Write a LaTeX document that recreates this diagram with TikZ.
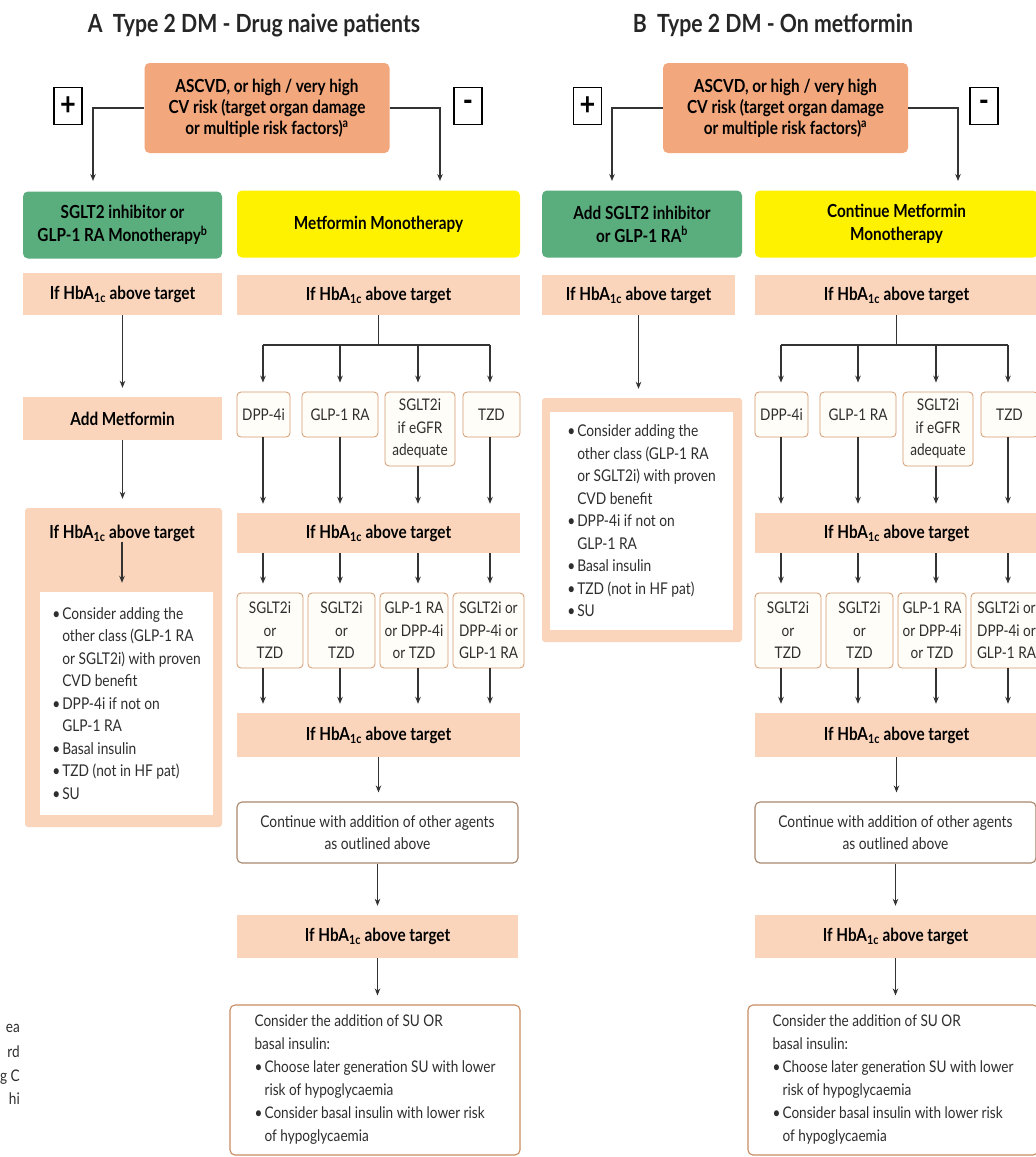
\documentclass[tikz,border=0pt]{standalone}
\usepackage{fontspec}
\setmainfont{Lato}[FakeStretch=0.85]
\usetikzlibrary{arrows.meta}
\definecolor{riskorange}{HTML}{F2A77D}
\definecolor{hbapeach}{HTML}{FAD5BC}
\definecolor{glizgreen}{HTML}{5AAE7E}
\definecolor{metyellow}{HTML}{FFF200}
\definecolor{drugborder}{HTML}{D49A70}
\definecolor{drugfill}{HTML}{FFFDF8}
\definecolor{noteborder}{HTML}{A8866C}
\definecolor{consborder}{HTML}{C98C60}
\definecolor{linegray}{HTML}{333333}
\definecolor{textgray}{HTML}{2E2E2E}
\newcommand{\hba}{If HbA\textsubscript{1c} above target}
\newcommand{\bul}{\makebox[10pt][l]{\textbullet}}
\newcommand{\bulpad}{\hspace*{10pt}}
\tikzstyle{title}=[font=\bfseries\fontsize{25}{28}\selectfont, text=black!85, inner sep=0]
\tikzstyle{riskbox}=[fill=riskorange, rounded corners=5pt, align=center, inner sep=0,
                     font=\bfseries\fontsize{18}{21}\selectfont, minimum width=245, minimum height=90]
\tikzstyle{signbox}=[draw=black, line width=1.4pt, inner sep=0, minimum width=28, minimum height=37,
                     font=\bfseries\fontsize{32}{32}\selectfont]
\tikzstyle{startbox}=[rounded corners=5pt, align=center, inner sep=0, minimum height=67,
                      font=\bfseries\fontsize{18}{23}\selectfont]
\tikzstyle{greenbox}=[startbox, fill=glizgreen]
\tikzstyle{yellowbox}=[startbox, fill=metyellow]
\tikzstyle{hbabox}=[fill=hbapeach, inner sep=0, minimum height=42, font=\bfseries\fontsize{18}{20}\selectfont]
\tikzstyle{hbatext}=[inner sep=0, font=\bfseries\fontsize{18}{20}\selectfont]
\tikzstyle{drugbox}=[draw=drugborder, line width=0.8pt, fill=drugfill, rounded corners=4pt, align=center,
                     inner sep=0, minimum height=45, text=textgray, font=\fontsize{16}{22.5}\selectfont]
\tikzstyle{notebox}=[draw=noteborder, line width=1.1pt, fill=white, rounded corners=5pt, align=center,
                     inner sep=0, text=textgray, font=\fontsize{16.2}{22}\selectfont]
\tikzstyle{consbox}=[notebox, draw=consborder, align=left, font=\fontsize{16}{23}\selectfont]
\tikzstyle{listframe}=[fill=hbapeach, rounded corners=3pt, inner sep=0]
\tikzstyle{listbox}=[fill=white, align=left, inner sep=0, text=textgray, font=\fontsize{16.2}{22.5}\selectfont]
\tikzstyle{fragment}=[inner sep=0, text=textgray, font=\fontsize{16}{20}\selectfont]
\tikzstyle{line}=[draw=linegray, line width=1.6pt]
\tikzstyle{flow}=[line, -{Stealth[length=7pt,width=5.5pt]}, shorten >=9pt]

% the metformin branch, drawn once for each panel
\newcommand{\metcolumn}[3]{%
  \begin{scope}[xshift=#2]
    \node[yellowbox, minimum width=283] (#1met) at (378.5,224) {#3};
    \node[hbabox, minimum width=283, minimum height=40] (#1hba1) at (378.5,295) {\hba};
    \coordinate (#1l1) at (263,0);
    \coordinate (#1l2) at (340,0);
    \coordinate (#1l3) at (418,0);
    \coordinate (#1l4) at (490,0);
    \coordinate (#1fork) at (378.5,345);
    \node[drugbox, minimum width=53] (#1dpp) at (263.5,414.5) {DPP-4i};
    \node[drugbox, minimum width=76] (#1glp) at (340,414.5) {GLP-1 RA};
    \node[drugbox, minimum width=70, minimum height=74] (#1sglt) at (420,429) {SGLT2i\\if eGFR\\adequate};
    \node[drugbox, minimum width=57] (#1tzd) at (491.5,414.5) {TZD};
    \node[hbabox, minimum width=283, minimum height=40] (#1hba2) at (378.5,533) {\hba};
    \node[drugbox, minimum width=66, minimum height=75] (#1c1) at (270,630.5) {SGLT2i\\or\\TZD};
    \node[drugbox, minimum width=67, minimum height=75] (#1c2) at (341.5,630.5) {SGLT2i\\or\\TZD};
    \node[drugbox, minimum width=68, minimum height=75] (#1c3) at (414,630.5) {GLP-1 RA\\or DPP-4i\\or TZD};
    \node[drugbox, minimum width=71, minimum height=75] (#1c4) at (488.5,630.5) {SGLT2i or\\DPP-4i or\\GLP-1 RA};
    \node[hbabox, minimum width=283, minimum height=44] (#1hba3) at (378.5,735) {\hba};
    \node[notebox, minimum width=281, minimum height=61] (#1cont) at (377.5,832.5)
      {Continue with addition of other agents\\as outlined above};
    \node[hbabox, minimum width=281, minimum height=43] (#1hba4) at (377.5,936.5) {\hba};
    \node[consbox, minimum width=290, minimum height=150] (#1cons) at (375,1080)
      {Consider the addition of SU OR\\basal insulin:\\\bul Choose later generation SU with lower\\
       \bulpad risk of hypoglycaemia\\\bul Consider basal insulin with lower risk\\\bulpad of hypoglycaemia};
  \end{scope}
  \draw[line] (#1hba1.south) -- (#1fork);
  \draw[line] (#1fork -| #1l1) -- (#1fork -| #1l4);
  \draw[flow] (#1fork -| #1l1) -- (#1dpp.north -| #1l1);
  \draw[flow] (#1fork -| #1l2) -- (#1glp.north -| #1l2);
  \draw[flow] (#1fork -| #1l3) -- (#1sglt.north -| #1l3);
  \draw[flow] (#1fork -| #1l4) -- (#1tzd.north -| #1l4);
  \draw[flow] (#1dpp.south -| #1l1) -- (#1hba2.north -| #1l1);
  \draw[flow] (#1glp.south -| #1l2) -- (#1hba2.north -| #1l2);
  \draw[flow] (#1sglt.south -| #1l3) -- (#1hba2.north -| #1l3);
  \draw[flow] (#1tzd.south -| #1l4) -- (#1hba2.north -| #1l4);
  \draw[flow] (#1hba2.south -| #1l1) -- (#1c1.north -| #1l1);
  \draw[flow] (#1hba2.south -| #1l2) -- (#1c2.north -| #1l2);
  \draw[flow] (#1hba2.south -| #1l3) -- (#1c3.north -| #1l3);
  \draw[flow] (#1hba2.south -| #1l4) -- (#1c4.north -| #1l4);
  \draw[flow] (#1c1.south -| #1l1) -- (#1hba3.north -| #1l1);
  \draw[flow] (#1c2.south -| #1l2) -- (#1hba3.north -| #1l2);
  \draw[flow] (#1c3.south -| #1l3) -- (#1hba3.north -| #1l3);
  \draw[flow] (#1c4.south -| #1l4) -- (#1hba3.north -| #1l4);
  \draw[flow] (#1hba3.south) -- (#1hba3.south |- #1cont.north);
  \draw[flow] (#1cont.south) -- (#1cont.south |- #1hba4.north);
  \draw[flow] (#1hba4.south) -- (#1hba4.south |- #1cons.north);
}

\begin{document}
\begin{tikzpicture}[x=1pt, y=-1pt]
    \useasboundingbox[fill=white] (0,0) rectangle (1036,1157);

    % titles
    \node[title] (titleA) at (254,25) {A\ \ Type 2 DM - Drug naive patients};
    \node[title] (titleB) at (773,25) {B\ \ Type 2 DM - On metformin};

    % panel A: risk question
    \node[riskbox] (riskA) at (267,108) {ASCVD, or high / very high\\CV risk (target organ damage\\or multiple risk factors)\textsuperscript{a}};
    \node[signbox] (plusA) at (68,106) {+};
    \node[signbox] (minusA) at (468,106) {-};
    \node[greenbox, minimum width=199] (startA) at (122.5,225) {SGLT2 inhibitor or\\GLP-1 RA Monotherapy\textsuperscript{b}};
    \coordinate (yesA) at (93,190);
    \coordinate (noA) at (440,190);

    % panel A: left column
    \node[hbabox, minimum width=199] (hbaA) at (122.5,294) {\hba};
    \node[hbabox, minimum width=199, minimum height=43] (addmetA) at (122.5,418.5) {Add Metformin};
    \node[listframe, minimum width=197, minimum height=319] (frameA) at (123.5,667.5) {};
    \node[hbatext] (hbaA2) at (122,533) {\hba};
    \node[listbox, minimum width=173, minimum height=223] (listA) at (126.5,703.5)
      {\bul Consider adding the\\\bulpad other class (GLP-1 RA\\\bulpad or SGLT2i) with proven\\\bulpad CVD benefit\\
       \bul DPP-4i if not on\\\bulpad GLP-1 RA\\\bul Basal insulin\\\bul TZD (not in HF pat)\\\bul SU};

    % panel A: metformin column
    \metcolumn{A}{0}{Metformin Monotherapy}

    \draw[flow] (riskA.west) -| (yesA);
    \draw[flow] (riskA.east) -| (noA);
    \draw[flow] (hbaA) -- (addmetA);
    \draw[flow] (addmetA.south) -- (addmetA.south |- frameA.north);
    \draw[flow] (hbaA2.south) -- (hbaA2.south |- listA.north);

    % panel B: risk question
    \node[riskbox] (riskB) at (785.5,108) {ASCVD, or high / very high\\CV risk (target organ damage\\or multiple risk factors)\textsuperscript{a}};
    \node[signbox] (plusB) at (587.5,106) {+};
    \node[signbox] (minusB) at (984,106) {-};
    \node[greenbox, minimum width=200] (startB) at (642,224) {Add SGLT2 inhibitor\\or GLP-1 RA\textsuperscript{b}};
    \coordinate (yesB) at (612,190);
    \coordinate (noB) at (958,190);

    % panel B: left column
    \node[hbabox, minimum width=193, minimum height=40] (hbaB) at (638.5,295) {\hba};
    \node[listframe, minimum width=200, minimum height=244] (frameB) at (642,520) {};
    \node[listbox, minimum width=183, minimum height=218] (listB) at (641.5,521)
      {\bul Consider adding the\\\bulpad other class (GLP-1 RA\\\bulpad or SGLT2i) with proven\\\bulpad CVD benefit\\
       \bul DPP-4i if not on\\\bulpad GLP-1 RA\\\bul Basal insulin\\\bul TZD (not in HF pat)\\\bul SU};

    % panel B: metformin column
    \metcolumn{B}{518}{Continue Metformin\\Monotherapy}

    \draw[flow] (riskB.west) -| (yesB);
    \draw[flow] (riskB.east) -| (noB);
    \draw[flow] (hbaB.south) -- (hbaB.south |- frameB.north);

    % cut text of the neighbouring figure
    \node[fragment, anchor=east] (fragA) at (20,1028) {ea};
    \node[fragment, anchor=east] (fragB) at (20,1052) {rd};
    \node[fragment, anchor=east] (fragC) at (20,1077) {g C};
    \node[fragment, anchor=east] (fragD) at (20,1099) {hi};
\end{tikzpicture}
\end{document}
